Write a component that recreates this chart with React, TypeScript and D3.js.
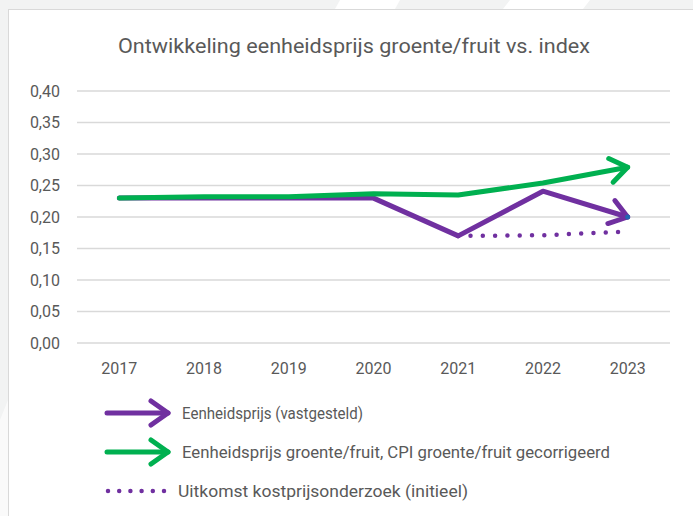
import React from "react";
import * as d3 from "d3";

const years = ["2017", "2018", "2019", "2020", "2021", "2022", "2023"];
const eenheidsprijs = [0.23, 0.23, 0.23, 0.23, 0.17, 0.241, 0.2];
const cpiGecorrigeerd = [0.23, 0.232, 0.232, 0.237, 0.235, 0.254, 0.279];
const kostprijsYears = ["2021", "2022", "2023"];
const kostprijs = [0.17, 0.171, 0.177];
const yTicks = [0, 0.05, 0.1, 0.15, 0.2, 0.25, 0.3, 0.35, 0.4];
const legendLabels = [
  "Eenheidsprijs (vastgesteld)",
  "Eenheidsprijs groente/fruit, CPI groente/fruit gecorrigeerd",
  "Uitkomst kostprijsonderzoek (initieel)",
];

const W = 693;
const H = 516;
const PURPLE = "#7030A0";
const GREEN = "#00B050";
const TEXT = "#595959";
const FONT = "Roboto, sans-serif";
const legendTextWidths = [181, 428, 290];

export default function App() {
  const x = d3.scaleBand<string>().domain(years).range([77, 670]);
  const cx = (d: string) => (x(d) as number) + x.bandwidth() / 2;
  const y = d3.scaleLinear().domain([0, 0.4]).range([343, 91]);
  const line = d3
    .line<[string, number]>()
    .x((d) => cx(d[0]))
    .y((d) => y(d[1]));
  const fmt = (v: number) => d3.format(".2f")(v).replace(".", ",");

  const purpleData = years.map((yr, i) => [yr, eenheidsprijs[i]] as [string, number]);
  const greenData = years.map((yr, i) => [yr, cpiGecorrigeerd[i]] as [string, number]);
  const dotData = kostprijsYears.map((yr, i) => [yr, kostprijs[i]] as [string, number]);
  const last = purpleData[purpleData.length - 1];

  const legendY = [413, 452, 491];

  return (
    <svg width={W} height={H} style={{ position: "absolute", left: 0, top: 0 }}>
      <defs>
        <marker id="arrP" markerUnits="userSpaceOnUse" viewBox="-22 -16 26 32" markerWidth={26} markerHeight={32} refX={0} refY={0} orient="auto">
          <path d="M -17,-12 L 0,0 L -17,12" fill="none" stroke={PURPLE} strokeWidth={5} strokeLinecap="round" strokeLinejoin="round" />
        </marker>
        <marker id="arrG" markerUnits="userSpaceOnUse" viewBox="-22 -16 26 32" markerWidth={26} markerHeight={32} refX={0} refY={0} orient="auto">
          <path d="M -17,-12 L 0,0 L -17,12" fill="none" stroke={GREEN} strokeWidth={5} strokeLinecap="round" strokeLinejoin="round" />
        </marker>
      </defs>
      <rect x={0} y={0} width={W} height={H} fill="#f2f3f3" />
      <polygon points="340,0 400,0 395,9 335,9" fill="#ffffff" />
      <polygon points="510,0 590,0 583,9 503,9" fill="#ffffff" />
      <polygon points="0,420 8,400 8,516 0,516" fill="#fafafa" />
      <rect x={8.5} y={9.5} width={W} height={H} fill="#ffffff" stroke="#d9d9d9" strokeWidth={1} />

      <text x={354} y={53} textAnchor="middle" fontFamily={FONT} fontSize={20} fill={TEXT} textLength={472} lengthAdjust="spacingAndGlyphs">
        Ontwikkeling eenheidsprijs groente/fruit vs. index
      </text>

      {yTicks.map((t) => (
        <g key={t}>
          <line x1={77} x2={670} y1={y(t)} y2={y(t)} stroke="#d9d9d9" strokeWidth={1.5} />
          <text x={60} y={y(t)} dy="0.35em" textAnchor="end" fontFamily={FONT} fontSize={16} fill={TEXT}>
            {fmt(t)}
          </text>
        </g>
      ))}
      {years.map((yr) => (
        <text key={yr} x={cx(yr)} y={374} textAnchor="middle" fontFamily={FONT} fontSize={16} fill={TEXT}>
          {yr}
        </text>
      ))}

      <path d={line(purpleData) as string} fill="none" stroke={PURPLE} strokeWidth={5} strokeLinecap="round" strokeLinejoin="round" markerEnd="url(#arrP)" />
      <path d={line(greenData) as string} fill="none" stroke={GREEN} strokeWidth={5} strokeLinecap="round" strokeLinejoin="round" markerEnd="url(#arrG)" />
      <path d={line(dotData) as string} fill="none" stroke={PURPLE} strokeWidth={4.5} strokeLinecap="round" strokeDasharray="0 12.3" />
      <circle cx={cx(last[0])} cy={y(last[1])} r={2.5} fill="#2267b0" />

      <line x1={107} x2={168} y1={legendY[0]} y2={legendY[0]} stroke={PURPLE} strokeWidth={5} strokeLinecap="round" markerEnd="url(#arrP)" />
      <line x1={107} x2={168} y1={legendY[1]} y2={legendY[1]} stroke={GREEN} strokeWidth={5} strokeLinecap="round" markerEnd="url(#arrG)" />
      <line x1={108} x2={170} y1={legendY[2]} y2={legendY[2]} stroke={PURPLE} strokeWidth={4.5} strokeLinecap="round" strokeDasharray="0 11.2" />
      {legendLabels.map((l, i) => (
        <text key={l} x={i === 2 ? 178 : 182} y={legendY[i]} dy="0.35em" fontFamily={FONT} fontSize={16} fill={TEXT} textLength={legendTextWidths[i]} lengthAdjust="spacingAndGlyphs">
          {l}
        </text>
      ))}
    </svg>
  );
}
